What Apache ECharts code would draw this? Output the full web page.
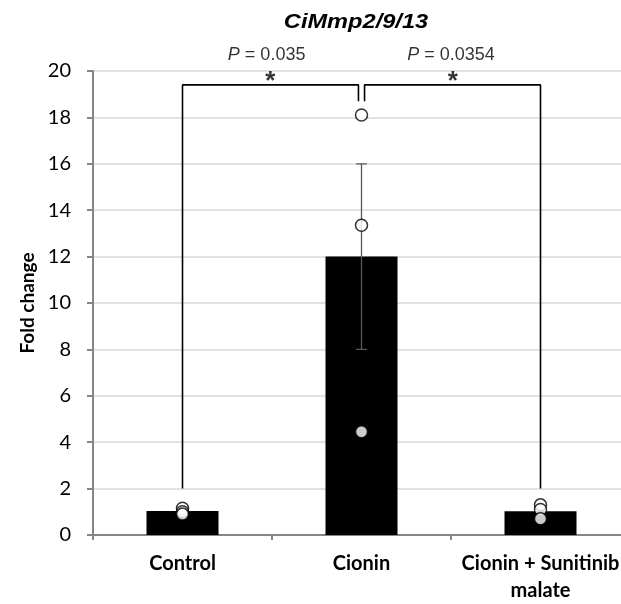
<!DOCTYPE html>
<html><head><meta charset="utf-8">
<script src="https://cdn.jsdelivr.net/npm/echarts@6/dist/echarts.min.js"></script>
<style>html,body{margin:0;padding:0;background:#fff;overflow:hidden}#c{width:630px;height:604px}</style>
</head><body><div id="c"></div>
<script>
// ---- data ----
const categories = ['Control', 'Cionin', 'Cionin + Sunitinib\nmalate'];
const means = [1.03, 12.0, 1.02];
const errLow = [null, 8.0, null];
const errHigh = [null, 16.0, null];
const pointsControl = [1.15, 1.0, 0.9];
const pointsCionin = [18.1, 13.35, 4.45];
const pointsSunitinib = [1.3, 1.1, 0.7];
const yMin = 0, yMax = 20, yStep = 2;
const pValues = ['0.035', '0.0354'];
const bracketTop = 19.4, bracketInner = 18.7, bracketOuter = 2.0;

const chart = echarts.init(document.getElementById('c'), null, {renderer: 'canvas'});

const scatterData = [];
[pointsControl, pointsCionin, pointsSunitinib].forEach((arr, i) => arr.forEach(v => scatterData.push([i, v])));

const gap = 0.017;
const leftBracket = [[0, bracketOuter], [0, bracketTop], [1 - gap, bracketTop], [1 - gap, bracketInner]];
const rightBracket = [[1 + gap, bracketInner], [1 + gap, bracketTop], [2, bracketTop], [2, bracketOuter]];

const errSeries = [];
errLow.forEach((lo, i) => {
  if (lo == null) return;
  const hi = errHigh[i];
  errSeries.push([[i, lo], [i, hi]]);
  errSeries.push([[i - 0.03, hi], [i + 0.03, hi]]);
  errSeries.push([[i - 0.03, lo], [i + 0.03, lo]]);
});

const lineBase = {type: 'line', xAxisIndex: 1, yAxisIndex: 0, symbol: 'none', silent: true, animation: false};

const option = {
  animation: false,
  backgroundColor: '#fff',
  grid: {left: 93, top: 71, width: 537, height: 465, containLabel: false},
  graphic: [{
    type: 'text', x: 356, y: 12, scaleX: 1.18, originX: 0, originY: 0,
    style: {text: 'CiMmp2/9/13', font: 'italic bold 20px "Liberation Sans", Arial', fill: '#000', textAlign: 'center'}
  }],
  xAxis: [{
    type: 'category', data: categories,
    axisLine: {onZero: false, lineStyle: {color: '#868686', width: 2}},
    axisTick: {show: true, length: 5, lineStyle: {color: '#868686', width: 2}},
    axisLabel: {color: '#000', fontFamily: 'Lato', fontWeight: 'bold', fontSize: 20, lineHeight: 27, margin: 15, interval: 0},
    splitLine: {show: false}
  }, {
    type: 'value', min: -0.5, max: 2.5, show: false
  }],
  yAxis: [{
    type: 'value', min: yMin, max: yMax, interval: yStep,
    name: 'Fold change', nameLocation: 'middle', nameGap: 56,
    nameTextStyle: {color: '#000', fontFamily: 'Lato', fontWeight: 'bold', fontSize: 19},
    axisLine: {show: true, onZero: false, lineStyle: {color: '#868686', width: 2}},
    axisTick: {show: true, length: 6, lineStyle: {color: '#868686', width: 2}},
    axisLabel: {color: '#000', fontFamily: 'Lato', fontSize: 20, margin: 22},
    splitLine: {show: true, lineStyle: {color: '#d9d9d9', width: 1.5}}
  }],
  series: [
    {type: 'bar', data: means, barWidth: 72, itemStyle: {color: '#000'}, z: 2, silent: true},
    Object.assign({}, lineBase, {data: leftBracket, lineStyle: {color: '#000', width: 1.6}, z: 3}),
    Object.assign({}, lineBase, {data: rightBracket, lineStyle: {color: '#000', width: 1.6}, z: 3}),
    ...errSeries.map(d => Object.assign({}, lineBase, {data: d, lineStyle: {color: '#595959', width: 1.3}, z: 4})),
    {type: 'scatter', data: scatterData, symbol: 'circle', symbolSize: 12,
     itemStyle: {color: '#fff', borderColor: '#000', borderWidth: 1.5}, z: 5, silent: true},
    {type: 'scatter', xAxisIndex: 1, symbolSize: 0, clip: false, silent: true, z: 6,
     data: [[0.49, 19.52], [1.51, 19.52]],
     label: {show: true, position: 'inside', formatter: '*', color: '#000', fontSize: 26, fontWeight: 'bold', fontFamily: 'Liberation Sans'}},
    {type: 'scatter', xAxisIndex: 1, symbolSize: 0, clip: false, silent: true, z: 6,
     data: [[0.47, 20.68, pValues[0]], [1.5, 20.68, pValues[1]]],
     label: {show: true, position: 'inside',
       formatter: p => '{i|P} = ' + p.data[2],
       color: '#000', fontSize: 18, fontFamily: 'Liberation Sans',
       rich: {i: {fontStyle: 'italic', fontSize: 18, fontFamily: 'Liberation Sans', color: '#000'}}}}
  ]
};
chart.setOption(option);
</script></body></html>
